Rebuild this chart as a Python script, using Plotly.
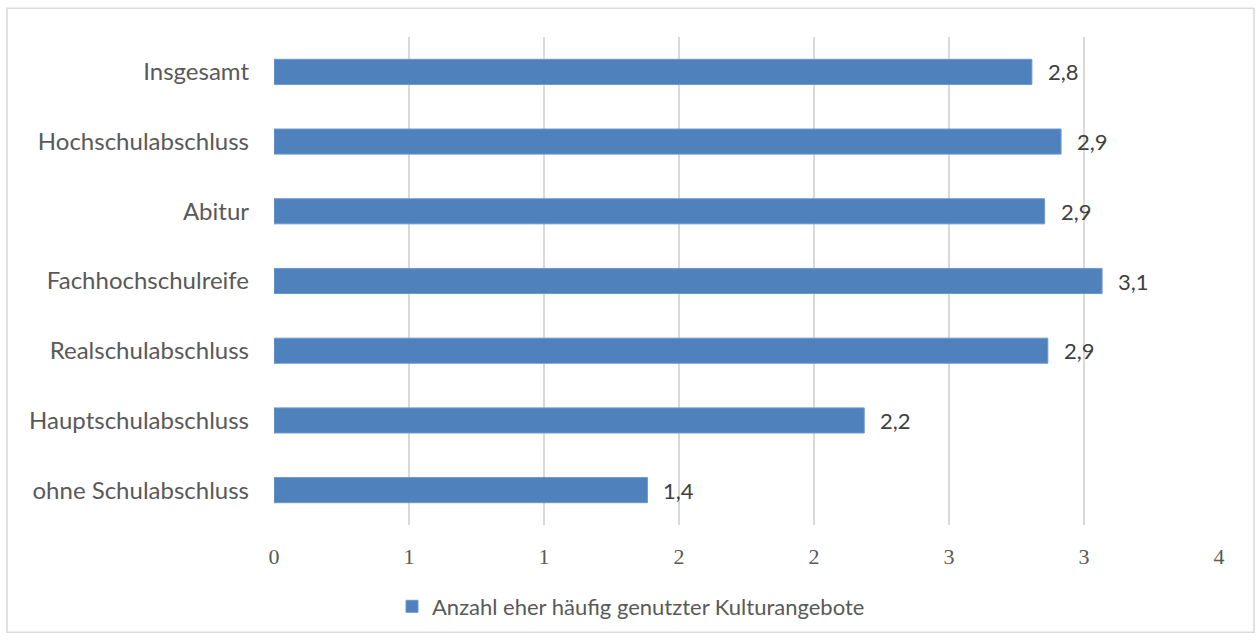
import plotly.graph_objects as go

categories = ["Insgesamt", "Hochschulabschluss", "Abitur", "Fachhochschulreife",
              "Realschulabschluss", "Hauptschulabschluss", "ohne Schulabschluss"]
values = [2.807, 2.915, 2.854, 3.067, 2.866, 2.186, 1.383]
series_name = "Anzahl eher häufig genutzter Kulturangebote"
tick_vals = [0, 0.5, 1, 1.5, 2, 2.5, 3, 3.5]
tick_text = ["0", "1", "1", "2", "2", "3", "3", "4"]

W, H = 1256, 640
ML, MR, MT, MB = 274, 37, 37, 112
pw, ph = W - ML - MR, H - MT - MB

fig = go.Figure()
fig.add_trace(go.Bar(
    x=values, y=categories, orientation="h", name=series_name,
    marker=dict(color="#4f81bd", line=dict(color="#6d97cc", width=1)),
    showlegend=True,
))

for v, c in zip(values, categories):
    fig.add_annotation(x=v, y=c, xref="x", yref="y",
                       text=f"{v:.1f}".replace(".", ","),
                       showarrow=False, xanchor="left", xshift=14,
                       font=dict(family="Lato", size=22, color="#404040"))

def px_x(p):
    return (p - ML) / pw

def px_y(p):
    return (H - MB - p) / ph

fig.add_shape(type="rect", xref="paper", yref="paper",
              x0=px_x(7), x1=px_x(1254), y0=px_y(636), y1=px_y(8),
              line=dict(color="#d9d9d9", width=1.5), fillcolor="rgba(0,0,0,0)",
              layer="below")

fig.update_layout(
    width=W, height=H,
    margin=dict(l=ML, r=MR, t=MT, b=MB, pad=0),
    paper_bgcolor="white", plot_bgcolor="white",
    bargap=0.64,
    separators=",.",
    font=dict(family="Lato", size=20, color="#595959"),
    legend=dict(orientation="h", x=px_x(631), xanchor="center",
                y=px_y(610), yanchor="middle",
                font=dict(family="Lato", size=22, color="#595959"),
                itemwidth=30),
    xaxis=dict(range=[0, 3.5], tickvals=tick_vals, ticktext=tick_text,
               showgrid=True, gridcolor="#d9d9d9", gridwidth=1.5,
               zeroline=False, showline=False,
               tickfont=dict(family="Liberation Serif", size=22, color="#595959"),
               ticks="", ticklabelstandoff=16),
    yaxis=dict(autorange="reversed", showgrid=False, zeroline=False,
               showline=False, ticks="", ticklabelstandoff=24,
               tickfont=dict(family="Lato", size=24, color="#595959")),
)

fig.write_html("out.html", config={"responsive": False, "displayModeBar": False},
               post_script="document.body.style.margin='0';document.body.style.overflow='hidden';")
